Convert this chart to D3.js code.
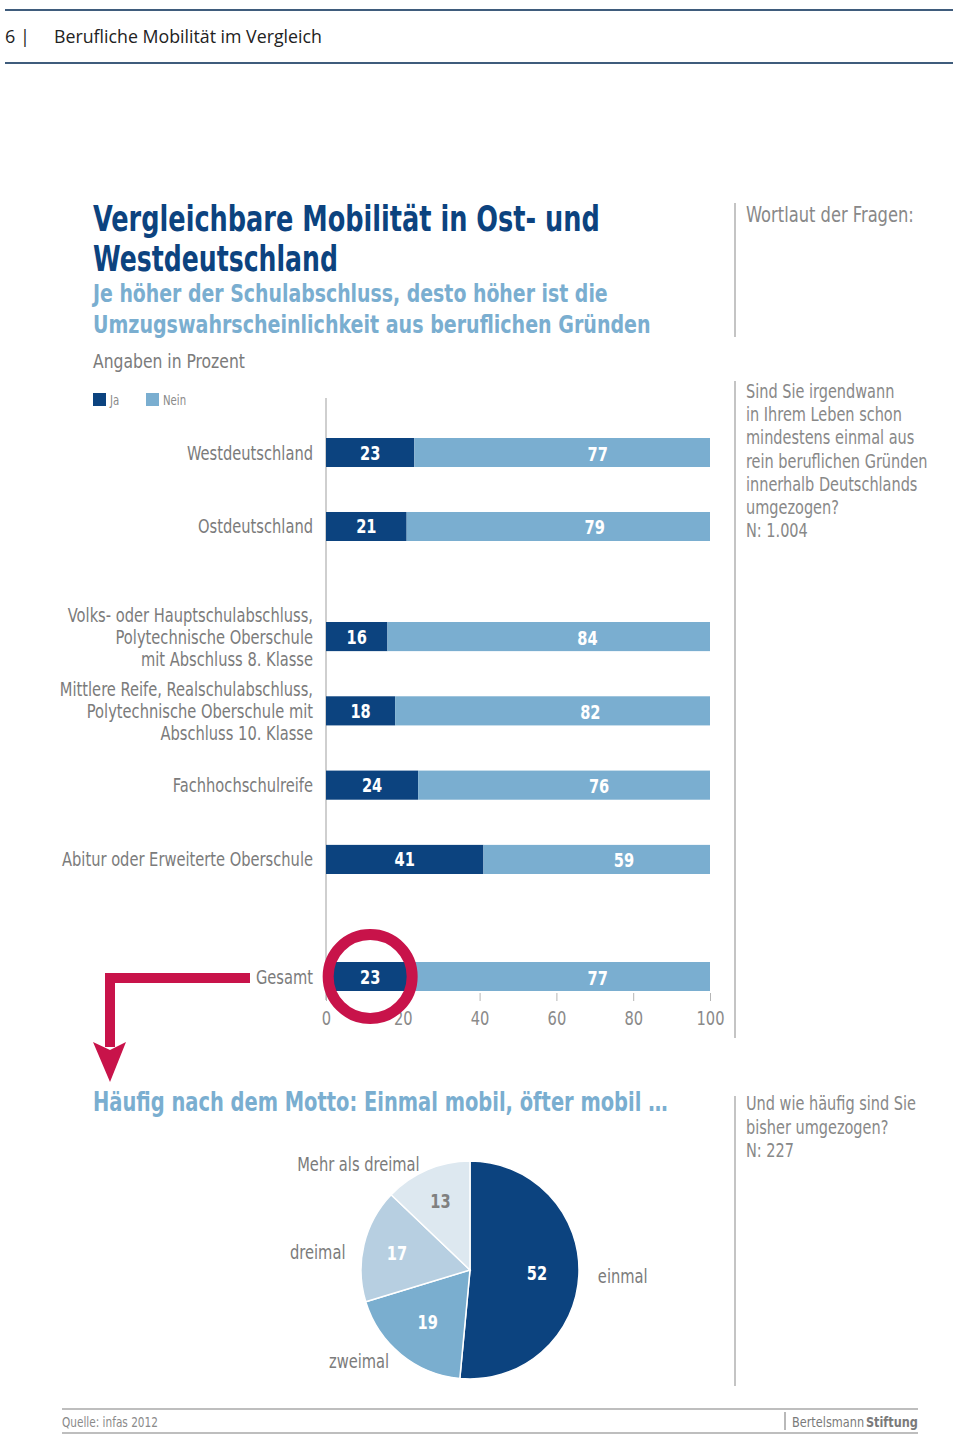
<!DOCTYPE html>
<html><head><meta charset="utf-8">
<script src="https://cdn.jsdelivr.net/npm/d3@7"></script>
<style>
html,body{margin:0;padding:0;background:#fff;}
svg{display:block;}
</style></head>
<body>
<svg id="c" width="960" height="1434"></svg>
<script>
// ---------- data ----------
const legendLabels = ["Ja", "Nein"];
const regionCats = ["Westdeutschland", "Ostdeutschland"];
const regionJa = [23, 21];
const regionNein = [77, 79];
const eduCats = [
  ["Volks- oder Hauptschulabschluss,", "Polytechnische Oberschule", "mit Abschluss 8. Klasse"],
  ["Mittlere Reife, Realschulabschluss,", "Polytechnische Oberschule mit", "Abschluss 10. Klasse"],
  ["Fachhochschulreife"],
  ["Abitur oder Erweiterte Oberschule"]
];
const eduJa = [16, 18, 24, 41];
const eduNein = [84, 82, 76, 59];
const totalCats = ["Gesamt"];
const totalJa = [23];
const totalNein = [77];
const xTicks = [0, 20, 40, 60, 80, 100];
const pieCats = ["einmal", "zweimal", "dreimal", "Mehr als dreimal"];
const pieValues = [52, 19, 17, 13];
const question1 = ["Sind Sie irgendwann", "in Ihrem Leben schon", "mindestens einmal aus", "rein beruflichen Gründen", "innerhalb Deutschlands", "umgezogen?", "N: 1.004"];
const question2 = ["Und wie häufig sind Sie", "bisher umgezogen?", "N: 227"];

// ---------- style ----------
const NARROW = "'Liberation Sans Narrow','DejaVu Sans Condensed','Roboto',sans-serif";
const SANS = "'Open Sans','Noto Sans',sans-serif";
const DARK = "#0c437f", LIGHT = "#7aaed0", GRAY = "#7b7b7b", RED = "#c8134a";
const pieColors = [DARK, "#7aaecf", "#b7cfe1", "#dde8f0"];

const svg = d3.select("#c");

function natural(s, size, weight, family) {
  const t = svg.append("text").text(s).style("font-family", family || NARROW)
    .style("font-size", size + "px").style("font-weight", weight || "normal");
  const l = t.node().getComputedTextLength(); t.remove(); return l;
}
// condensing factors derived from reference text widths
const KN = 251 / natural("Abitur oder Erweiterte Oberschule", 19.5);
const KB = 507 / natural("Vergleichbare Mobilität in Ost- und", 35, "bold");

function txt(x, y, s, opt) {
  opt = opt || {};
  const fam = opt.family || NARROW;
  const t = svg.append("text").attr("x", 0).attr("y", 0).text(s)
    .style("font-family", fam)
    .style("font-size", (opt.size || 18) + "px")
    .style("font-weight", opt.weight || "normal")
    .attr("fill", opt.fill || GRAY)
    .attr("text-anchor", opt.anchor || "start");
  if (opt.dy) t.attr("dy", opt.dy);
  const l = t.node().getComputedTextLength();
  let k = 1;
  if (opt.w && l > 0) k = opt.w / l;
  else if (fam === NARROW) k = (opt.weight === "bold" ? KB : KN);
  t.attr("transform", `translate(${x},${y}) scale(${k},1)`);
  return t;
}

// ---------- header ----------
svg.append("line").attr("x1", 5).attr("x2", 953).attr("y1", 10).attr("y2", 10).attr("stroke", "#3f5c7c").attr("stroke-width", 2);
svg.append("line").attr("x1", 5).attr("x2", 953).attr("y1", 63).attr("y2", 63).attr("stroke", "#3f5c7c").attr("stroke-width", 2);
txt(5, 43, "6 |", {family: SANS, size: 18, fill: "#222"});
txt(54, 43, "Berufliche Mobilität im Vergleich", {family: SANS, size: 18, fill: "#222", w: 268});

// ---------- titles ----------
txt(93, 231, "Vergleichbare Mobilität in Ost- und", {size: 35, weight: "bold", fill: DARK, w: 507});
txt(93, 271, "Westdeutschland", {size: 35, weight: "bold", fill: DARK, w: 245});
txt(93, 302, "Je höher der Schulabschluss, desto höher ist die", {size: 25, weight: "bold", fill: LIGHT, w: 515});
txt(93, 333, "Umzugswahrscheinlichkeit aus beruflichen Gründen", {size: 25, weight: "bold", fill: LIGHT, w: 558});
txt(93, 368, "Angaben in Prozent", {size: 20, fill: GRAY, w: 152});

// legend
[DARK, LIGHT].forEach((c, i) => {
  const lx = [93, 146][i];
  svg.append("rect").attr("x", lx).attr("y", 393).attr("width", 13).attr("height", 13).attr("fill", c);
  txt(lx + 17, 405, legendLabels[i], {size: 13.5, fill: "#8a8a8a"});
});

// right notes
svg.append("line").attr("x1", 735).attr("x2", 735).attr("y1", 203).attr("y2", 337).attr("stroke", "#c4c4c4").attr("stroke-width", 2);
svg.append("line").attr("x1", 735).attr("x2", 735).attr("y1", 381).attr("y2", 1038).attr("stroke", "#c4c4c4").attr("stroke-width", 2);
svg.append("line").attr("x1", 735).attr("x2", 735).attr("y1", 1096).attr("y2", 1386).attr("stroke", "#c4c4c4").attr("stroke-width", 2);
txt(746, 222, "Wortlaut der Fragen:", {size: 21, fill: "#888", w: 168});
question1.forEach((s, i) => txt(746, 398 + i * 23.2, s, {size: 19.3, fill: "#888"}));
question2.forEach((s, i) => txt(746, 1110 + i * 23.5, s, {size: 19.3, fill: "#888"}));

// ---------- bars ----------
const x = d3.scaleLinear().domain([0, 100]).range([326, 710]);
const y1 = d3.scaleBand().domain(regionCats).range([438, 541]).paddingInner(0.608);
const y2 = d3.scaleBand().domain(d3.range(eduCats.length)).range([622, 874]).paddingInner(0.608);
const y3 = d3.scaleBand().domain(totalCats).range([962, 991]);

// axis line
svg.append("line").attr("x1", x(0)).attr("x2", x(0)).attr("y1", 398).attr("y2", 1000).attr("stroke", "#b5b5b5").attr("stroke-width", 1.3);

function drawRows(keys, yScale, ja, nein, labelFn) {
  keys.forEach((k, i) => {
    const y0 = yScale(k), h = yScale.bandwidth(), cy = y0 + h / 2;
    svg.append("rect").attr("x", x(0)).attr("y", y0).attr("width", x(ja[i]) - x(0)).attr("height", h).attr("fill", DARK);
    svg.append("rect").attr("x", x(ja[i])).attr("y", y0).attr("width", x(ja[i] + nein[i]) - x(ja[i])).attr("height", h).attr("fill", LIGHT);
    txt(x(ja[i] / 2), cy + 7, ja[i], {size: 20, weight: "bold", fill: "#fff", anchor: "middle"});
    txt(x(ja[i] + nein[i] * 0.62), cy + 8, nein[i], {size: 20, weight: "bold", fill: "#fff", anchor: "middle"});
    const lines = labelFn(k, i);
    lines.forEach((s, j) => {
      txt(313, cy + 7 + (j - (lines.length - 1) / 2) * 22, s, {size: 19.5, fill: GRAY, anchor: "end"});
    });
  });
}
drawRows(regionCats, y1, regionJa, regionNein, k => [k]);
drawRows(d3.range(eduCats.length), y2, eduJa, eduNein, (k, i) => eduCats[i]);
drawRows(totalCats, y3, totalJa, totalNein, k => [k]);

// bottom axis
const ax = svg.append("g").attr("transform", "translate(0,993)")
  .call(d3.axisBottom(x).tickValues(xTicks).tickSize(8).tickPadding(10));
ax.select(".domain").remove();
ax.selectAll(".tick line").attr("stroke", "#b5b5b5");
ax.selectAll(".tick text").style("font-family", NARROW).style("font-size", "19.5px").attr("fill", "#8a8a8a")
  .attr("transform", `scale(${KN},1)`);

// red highlight circle + arrow
const gy = y3(totalCats[0]) + y3.bandwidth() / 2;
svg.append("circle").attr("cx", x(totalJa[0] / 2)).attr("cy", gy).attr("r", 42)
  .attr("fill", "none").attr("stroke", RED).attr("stroke-width", 11);
svg.append("path").attr("d", "M250,973 L105,973 L105,1047 L115,1047 L115,983 L250,983 Z").attr("fill", RED);
svg.append("path").attr("d", "M93,1042 L110,1050 L126,1042 L110,1082 Z").attr("fill", RED);

// ---------- pie ----------
txt(93, 1111, "Häufig nach dem Motto: Einmal mobil, öfter mobil …", {size: 26, weight: "bold", fill: LIGHT, w: 575});
const cx = 470, cyP = 1270, R = 109;
const pie = d3.pie().sort(null).value(d => d)(pieValues);
const arc = d3.arc().innerRadius(0).outerRadius(R);
const gP = svg.append("g").attr("transform", `translate(${cx},${cyP})`);
gP.selectAll("path").data(pie).join("path").attr("d", arc)
  .attr("fill", (d, i) => pieColors[i]).attr("stroke", "#fff").attr("stroke-width", 1.5);
const inLab = d3.arc().innerRadius(0).outerRadius(134);
const outR = 128;
pie.forEach((d, i) => {
  const c = inLab.centroid(d);
  const a = (d.startAngle + d.endAngle) / 2;
  const big = pieValues[i] >= 19;
  const rr = big ? 1 : 1.12;
  txt(cx + c[0] * rr, cyP + c[1] * rr, pieValues[i], {size: 20, weight: "bold", fill: i === 3 ? "#808080" : "#fff", anchor: "middle", dy: "0.36em"});
  const ox = outR * Math.sin(a), oy = -outR * Math.cos(a);
  const dyAdj = ox > 0 ? 0 : (oy < 0 ? 12 : -8);
  txt(cx + ox, cyP + oy + dyAdj, pieCats[i], {size: 19.5, fill: GRAY, anchor: ox > 0 ? "start" : "end", dy: "0.36em"});
});

// ---------- footer ----------
svg.append("line").attr("x1", 62).attr("x2", 918).attr("y1", 1409).attr("y2", 1409).attr("stroke", "#a8a8a8").attr("stroke-width", 1.5);
svg.append("line").attr("x1", 62).attr("x2", 918).attr("y1", 1433).attr("y2", 1433).attr("stroke", "#a8a8a8").attr("stroke-width", 1.5);
txt(62, 1427, "Quelle: infas 2012", {size: 14, fill: "#8a8a8a", w: 96});
svg.append("line").attr("x1", 785).attr("x2", 785).attr("y1", 1412).attr("y2", 1430).attr("stroke", "#8a8a8a").attr("stroke-width", 1.2);
const bt = svg.append("text").attr("x", 0).attr("y", 0).style("font-family", NARROW).style("font-size", "14px").attr("fill", "#7a7a7a");
bt.append("tspan").text("Bertelsmann");
bt.append("tspan").text("Stiftung").style("font-weight", "bold").attr("dx", 2);
const btl = bt.node().getComputedTextLength() + 2;
bt.attr("transform", `translate(792,1427) scale(${126 / btl},1)`);
</script>
</body></html>
